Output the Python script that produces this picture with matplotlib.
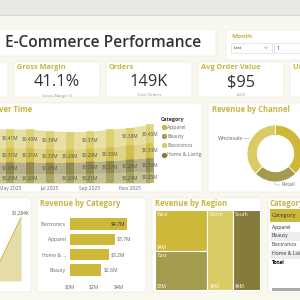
import numpy as np
import matplotlib.pyplot as plt
from matplotlib.patches import FancyBboxPatch, Rectangle

plt.rcParams['font.family'] = ['Open Sans', 'DejaVu Sans']

# ---- data ----
months = ['Apr 2025', 'May 2025', 'Jun 2025', 'Jul 2025', 'Aug 2025',
          'Sep 2025', 'Oct 2025', 'Nov 2025', 'Dec 2025']
electronics = [0.41, 0.41, 0.40, 0.39, 0.38, 0.37, 0.38, 0.38, 0.40]
apparel = [0.31, 0.31, 0.31, 0.30, 0.29, 0.29, 0.30, 0.31, 0.33]
home_living = [0.26, 0.26, 0.26, 0.25, 0.25, 0.26, 0.27, 0.28, 0.30]
beauty = [0.20, 0.20, 0.20, 0.20, 0.20, 0.21, 0.22, 0.24, 0.25]
# which data labels power bi left visible
show_electronics = [0, 1, 1, 1, 0, 1, 0, 1, 1]
show_apparel = [0, 1, 1, 1, 1, 1, 1, 0, 1]
show_home = [0, 1, 0, 1, 0, 1, 1, 1, 1]
show_beauty = [0, 1, 1, 0, 1, 1, 0, 1, 1]
tick_months = ['May 2025', 'Jul 2025', 'Sep 2025', 'Nov 2025']

trend_months = ['Nov 2025', 'Dec 2025']
trend_revenue = [1210, 1284]  # $K

cat_names = ['Electronics', 'Apparel', 'Home & ...', 'Beauty']
cat_revenue = [4.7, 3.7, 3.2, 2.6]

region_names = ['West', 'East', 'North', 'South']
region_revenue = [3.57, 3.48, 3.50, 3.64]

channel_names = ['Online', 'Retail', 'Wholesale']
channel_share = [0.375, 0.25, 0.375]

kpi_titles = ['Gross Margin', 'Orders', 'Avg Order Value']
kpi_values = ['41.1%', '149K', '$95']
kpi_subs = ['Gross Margin %', 'Total Orders', 'AOV']

table_rows = ['Apparel', 'Beauty', 'Electronics', 'Home & Living']

# ---- colours ----
GOLD = '#CDB83A'
OLIVE = '#A39C4E'
LIGHT = '#D9CC66'
DARK = '#857C3C'
TITLE_GOLD = '#C9B440'
BG = '#F9F8EF'
TXT = '#333333'
GREY = '#666666'

fig = plt.figure(figsize=(3, 3), dpi=100)
fig.patch.set_facecolor(BG)

bg = fig.add_axes([0, 0, 1, 1])
bg.set_xlim(0, 300)
bg.set_ylim(300, 0)
bg.axis('off')


def px_axes(x0, y0, x1, y1):
    a = fig.add_axes([x0 / 300, 1 - y1 / 300, (x1 - x0) / 300, (y1 - y0) / 300])
    a.patch.set_alpha(0)
    for s in a.spines.values():
        s.set_visible(False)
    return a


def card(x0, y0, x1, y1):
    bg.add_patch(FancyBboxPatch((x0, y0), x1 - x0, y1 - y0,
                                boxstyle='round,pad=0,rounding_size=2',
                                fc='white', ec='#ECEBE3', lw=0.5))


# header strip
bg.add_patch(Rectangle((0, 0), 300, 15, fc='#E9E8E2', lw=0))
bg.plot([0, 300], [15.3, 15.3], color='#D9D8D1', lw=0.8)

# title card
card(-50, 29, 216, 56)
bg.text(5, 43, 'E-Commerce Performance', fontsize=11.2, color=TXT,
        fontweight='semibold', va='center', ha='left')

# month slicer
card(226, 30, 360, 60)
bg.text(231, 37, 'Month', fontsize=4.6, color=TITLE_GOLD, fontweight='bold',
        va='center')
bg.add_patch(Rectangle((231, 43), 41, 10, fc='white', ec='#DDDDDD', lw=0.5))
bg.text(234, 48, 'Last', fontsize=3.2, color=TXT, va='center')
bg.plot([264.5, 266, 267.5], [47, 48.5, 47], color='#888888', lw=0.4)
bg.add_patch(Rectangle((274, 43), 40, 10, fc='white', ec='#DDDDDD', lw=0.5))
bg.text(277, 48, '1', fontsize=3.6, color=TXT, va='center')

# kpi cards
card(-80, 62, 8, 97)
kpi_x = [14, 106, 198]
for x0, t, v, s in zip(kpi_x, kpi_titles, kpi_values, kpi_subs):
    card(x0, 62, x0 + 86, 97)
    bg.text(x0 + 3, 67.5, t, fontsize=5.3, color=TITLE_GOLD, fontweight='bold',
            va='center')
    bg.text(x0 + 43, 82, v, fontsize=11.8, color=TXT, ha='center', va='center')
    bg.text(x0 + 43, 95.5, s, fontsize=3, color='#999999', ha='center',
            va='center')
card(290, 62, 380, 97)
bg.text(293, 67.5, 'Units Sold', fontsize=5.3, color=TITLE_GOLD,
        fontweight='bold', va='center')

# ---- revenue over time (stacked area + columns) ----
card(-50, 103, 202, 192)
bg.text(32, 110, 'Revenue Over Time', fontsize=5.5, color=TITLE_GOLD,
        fontweight='bold', ha='right', va='center')

ax = px_axes(-20, 117, 155, 183)
x = np.arange(len(months))
series = [(beauty, OLIVE, show_beauty), (home_living, DARK, show_home),
          (apparel, GOLD, show_apparel), (electronics, LIGHT, show_electronics)]
base = np.zeros(len(months))
for vals, col, show in series:
    vals = np.array(vals)
    ax.fill_between(x, base, base + vals, color=col, alpha=0.6, lw=0)
    ax.bar(x, vals, bottom=base, width=0.4, color=col, alpha=0.75, lw=0)
    for xi, b, v, s in zip(x, base, vals, show):
        if s:
            ax.text(xi, b + v / 2, f'${v:.2f}M', ha='center', va='center',
                    fontsize=3.4, color='#555555')
    base = base + vals
ax.set_xlim(-0.5, 8.25)
ax.set_ylim(0, 1.44)
ax.set_yticks([])
ax.set_xticks([months.index(m) for m in tick_months])
ax.set_xticklabels(tick_months)
ax.tick_params(length=0, pad=2, labelsize=3.6, labelcolor=GREY)

# legend
bg.text(161, 119, 'Category', fontsize=3.8, color=TXT, fontweight='bold',
        va='center')
for k, (name, col) in enumerate(zip(['Apparel', 'Beauty', 'Electronics',
                                     'Home & Living'],
                                    [GOLD, OLIVE, LIGHT, DARK])):
    yy = 127 + 9.2 * k
    bg.plot(163.5, yy, 'o', ms=2.8, color=col)
    bg.text(167, yy, name, fontsize=3.7, color=GREY, va='center')

# ---- revenue by channel (donut) ----
card(208, 103, 360, 192)
bg.text(212, 110, 'Revenue by Channel', fontsize=5.5, color=TITLE_GOLD,
        fontweight='bold', va='center')
axd = px_axes(247, 125, 304, 182)
axd.pie(channel_share, colors=[GOLD, OLIVE, LIGHT], startangle=90,
        counterclock=False,
        wedgeprops=dict(width=0.36, edgecolor='white', linewidth=0.6))
axd.set_xlim(-1, 1)
axd.set_ylim(-1, 1)
bg.text(218, 138, 'Wholesale', fontsize=3.8, color=GREY, va='center')
bg.plot([243, 249], [138, 138], color='#AAAAAA', lw=0.4)
bg.text(282, 185, 'Retail', fontsize=3.8, color=GREY, va='center')
bg.plot([274, 276, 280], [182, 185, 185], color='#AAAAAA', lw=0.4)

# ---- revenue trend (left, cut off) ----
card(-80, 198, 31, 292)
axt = px_axes(-40, 200, 26, 281)
tx = np.arange(len(trend_months)) + 10
axt.fill_between(tx, 1209, trend_revenue, color='#E4DCA9', lw=0)
axt.plot(tx, trend_revenue, color=GOLD, lw=0.8)
for xi, v in zip(tx, trend_revenue):
    axt.text(xi, v + 3, f'${v:,}K', ha='center', va='bottom', fontsize=3.4,
             color='#555555')
axt.set_xlim(8.967, 11.167)
axt.set_ylim(1209, 1305)
axt.set_xticks([])
axt.set_yticks([])

# ---- revenue by category (bars) ----
card(37, 198, 146, 292)
bg.text(40, 204, 'Revenue by Category', fontsize=5.5, color=TITLE_GOLD,
        fontweight='bold', va='center')
axb = px_axes(70, 216, 135, 278)
yb = np.arange(len(cat_names))
axb.barh(yb, cat_revenue, height=0.72, color=GOLD, lw=0)
for yi, v in zip(yb, cat_revenue):
    if v == max(cat_revenue):
        axb.text(v - 0.12, yi, f'${v}M', ha='right', va='center',
                 fontsize=3.6, color=TXT)
    else:
        axb.text(v + 0.15, yi, f'${v}M', ha='left', va='center',
                 fontsize=3.6, color=GREY)
axb.set_ylim(3.52, -0.52)
axb.set_xlim(0, 5.37)
axb.set_yticks(yb)
axb.set_yticklabels(cat_names)
axb.set_xticks([0, 2, 4])
axb.set_xticklabels(['$0M', '$2M', '$4M'])
axb.tick_params(length=0, labelsize=3.6, labelcolor=GREY)
axb.tick_params(axis='y', pad=3)
axb.tick_params(axis='x', pad=5)

# ---- revenue by region (treemap) ----
card(152, 198, 261, 292)
bg.text(155, 204, 'Revenue by Region', fontsize=5.5, color=TITLE_GOLD,
        fontweight='bold', va='center')
tm_x0, tm_y0, tm_w, tm_h = 154.5, 210, 105, 80
total = sum(region_revenue)
col1 = region_revenue[0] + region_revenue[1]
w1 = tm_w * col1 / total
h_west = tm_h * region_revenue[0] / col1
rects = [(tm_x0, tm_y0, w1, h_west),
         (tm_x0, tm_y0 + h_west, w1, tm_h - h_west)]
xc = tm_x0 + w1
for v in region_revenue[2:]:
    w = tm_w * v / total
    rects.append((xc, tm_y0, w, tm_h))
    xc += w
for (rx, ry, rw, rh), name, v, col in zip(rects, region_names, region_revenue,
                                          [GOLD, OLIVE, LIGHT, DARK]):
    bg.add_patch(Rectangle((rx, ry), rw, rh, fc=col, ec='white', lw=0.8))
    bg.text(rx + 2.5, ry + 5, name, fontsize=3.6, color='white', va='center')
    bg.text(rx + 2.5, ry + rh - 4, f'${v:.0f}M', fontsize=3.4, color='white',
            va='center')

# ---- category table ----
card(268, 198, 380, 292)
bg.text(270, 204, 'Category', fontsize=5.5, color=TITLE_GOLD,
        fontweight='bold', va='center')
bg.add_patch(Rectangle((270, 209), 40, 13, fc=GOLD, lw=0))
bg.text(272, 215.5, 'Category', fontsize=4.2, color=TXT, va='center')
for k, name in enumerate(table_rows):
    yy = 227 + 9 * k
    if k % 2 == 1:
        bg.add_patch(Rectangle((270, yy - 4.5), 40, 9, fc='#EEEEEE', lw=0))
    bg.text(272, yy, name, fontsize=3.7, color=TXT, va='center')
bg.text(272, 263, 'Total', fontsize=3.7, color='black', fontweight='bold',
        va='center')
bg.add_patch(Rectangle((272, 288), 40, 2.5, fc='#AAAAAA', lw=0))

fig.savefig('out.png', dpi=100, facecolor=BG)
